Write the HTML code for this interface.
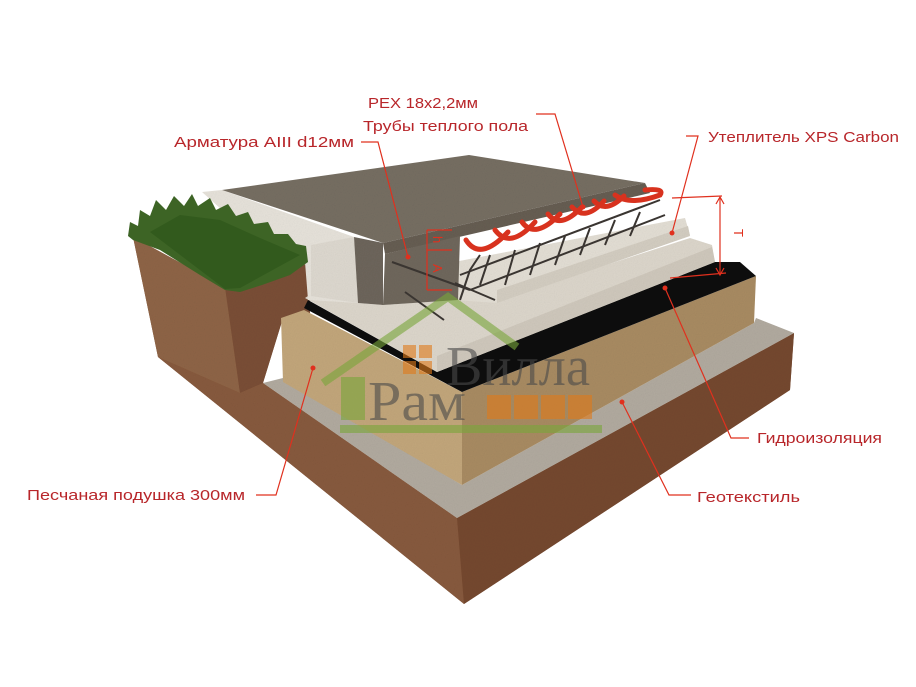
<!DOCTYPE html>
<html><head><meta charset="utf-8"><style>
html,body{margin:0;padding:0;background:#fff;}
svg{display:block;}
text{font-family:"Liberation Sans","DejaVu Sans",sans-serif;}
</style></head><body>
<svg width="916" height="687" viewBox="0 0 916 687" xmlns="http://www.w3.org/2000/svg">
<defs>
<filter id="n" x="0" y="0" width="100%" height="100%">
<feTurbulence type="fractalNoise" baseFrequency="0.9" numOctaves="2" result="t"/>
<feColorMatrix type="saturate" values="0"/>
<feComponentTransfer><feFuncA type="table" tableValues="0 0.18"/></feComponentTransfer>
<feComposite in2="SourceGraphic" operator="in"/>
<feBlend in="SourceGraphic" mode="multiply"/>
</filter>
</defs>
<g filter="url(#n)">
<!-- soil -->
<polygon points="133,237 225,287 310,263 310,318 283,318 263,383 457,518 794,333 790,390 464,604 158,357" fill="#8a5a3c"/>
<polygon points="133,237 225,287 240,393 158,357" fill="#8e6446"/>
<polygon points="225,287 310,263 310,318 283,318 263,383 240,393" fill="#7a4e36"/>
<polygon points="240,393 263,383 457,518 464,604 158,357" fill="#875a3e"/>
<polygon points="457,518 794,333 790,390 464,604" fill="#75482f"/>
<!-- geotextile -->
<polygon points="263,383 457,518 794,333 756,318 754,323 462,485 283,378" fill="#b1aa9f"/>
<!-- sand -->
<polygon points="281,318 304,310 462,392 462,485 283,382" fill="#c2a67b"/>
<polygon points="462,392 756,276 754,323 462,485" fill="#a88b62"/>
<!-- black membrane -->
<polygon points="304,308 462,392 756,276 740,262 712,262 437,372 308,300" fill="#101010"/>
<!-- XPS lower -->
<polygon points="305,298 437,372 715,262 712,245 690,238 497,300 455,300 383,305 358,303 308,296" fill="#dcd6cb"/>
<polygon points="437,356 712,247 715,262 437,372" fill="#cfc8bc"/>
<!-- XPS left wall -->
<polygon points="202,192 222,190 354,237 358,303 308,300 305,262 250,235" fill="#e6e2da"/>
<polygon points="311,245 354,237 358,303 311,296" fill="#ddd8cf"/>
<!-- upper tier -->
<polygon points="454,262 685,218 690,235 497,303 455,300" fill="#e3ded4"/>
<polygon points="497,290 688,226 690,236 497,303" fill="#d3cdc1"/>
<!-- slab -->
<polygon points="222,190 469,155 645,183 383,243" fill="#766e62"/>
<polygon points="354,237 383,243 383,305 358,303" fill="#6d655b"/>
<polygon points="383,243 645,183 650,193 385,254" fill="#665d52"/>
<polygon points="385,254 460,236 458,300 383,305" fill="#6f675c"/>
</g>
<!-- rebar -->
<g stroke="#3a3531" stroke-width="2" fill="none">
<line x1="392" y1="262" x2="470" y2="290"/>
<line x1="405" y1="292" x2="444" y2="320"/>
<line x1="455" y1="283" x2="495" y2="300"/>
<path d="M460,275 L660,200"/>
<path d="M470,290 L665,215"/>
<path d="M460,300 L470,270 L480,255 M480,285 L490,255 M505,285 L515,250 M530,275 L540,243 M555,265 L565,236 M580,255 L590,228 M605,245 L615,220 M630,236 L640,212"/>
</g>
<!-- pipes -->
<g stroke="#d8321e" stroke-width="5" fill="none" stroke-linecap="round">
<path d="M466,240 Q480,262 508,232"/>
<path d="M495,230 Q510,250 535,222"/>
<path d="M522,222 Q535,240 560,214"/>
<path d="M548,214 Q560,230 582,207"/>
<path d="M572,207 Q585,222 604,201"/>
<path d="M594,201 Q606,214 624,196"/>
<path d="M615,195 Q630,206 660,195 Q665,188 645,190"/>
</g>
<!-- grass -->
<polygon points="128,236 130,222 138,226 140,210 150,216 156,200 166,210 174,196 184,206 192,194 198,206 210,198 216,210 228,204 236,216 248,212 254,224 268,222 274,234 288,234 296,244 306,246 308,262 290,275 262,285 240,292 225,290 200,275 160,250 133,240" fill="#3d6425"/>
<polygon points="150,232 180,215 220,220 260,238 300,255 240,288 225,289" fill="#325a1d"/>
<!-- watermark -->
<g opacity="0.6">
<polyline points="323,383 448,297 517,347" fill="none" stroke="#79a63a" stroke-width="8"/>
<rect x="341" y="377" width="24" height="43" fill="#79a63a"/>
<rect x="340" y="425" width="262" height="8" fill="#79a63a"/>
<rect x="403" y="345" width="13" height="13" fill="#e07a1a"/><rect x="419" y="345" width="13" height="13" fill="#e07a1a"/>
<rect x="403" y="361" width="13" height="13" fill="#e07a1a"/><rect x="419" y="361" width="13" height="13" fill="#e07a1a"/>
<rect x="487" y="395" width="24" height="24" fill="#e07a1a"/><rect x="514" y="395" width="24" height="24" fill="#e07a1a"/>
<rect x="541" y="395" width="24" height="24" fill="#e07a1a"/><rect x="568" y="395" width="24" height="24" fill="#e07a1a"/>
<text x="446" y="385" font-size="56" fill="#4a4a4a" textLength="144" lengthAdjust="spacingAndGlyphs" style="font-family:'Liberation Serif',serif">Вилла</text>
<text x="368" y="420" font-size="56" fill="#4a4a4a" textLength="98" lengthAdjust="spacingAndGlyphs" style="font-family:'Liberation Serif',serif">Рам</text>
</g>
<!-- leaders -->
<g stroke="#e0301e" stroke-width="1.2" fill="none">
<polyline points="536,114 555,114 583,207"/>
<polyline points="361,142 378,142 408,257"/>
<polyline points="686,136 698,136 672,233"/>
<polyline points="749,438 731,438 665,288"/>
<polyline points="691,495 669,495 622,402"/>
<polyline points="256,495 276,495 313,368"/>
<line x1="672" y1="198" x2="722" y2="196"/>
<line x1="720" y1="197" x2="720" y2="275"/>
<line x1="670" y1="278" x2="726" y2="273"/>
<polyline points="716,204 720,197 724,204"/>
<polyline points="716,268 720,275 724,268"/>
<line x1="427" y1="230" x2="427" y2="290"/>
<line x1="427" y1="230" x2="452" y2="230"/>
<line x1="427" y1="250" x2="452" y2="250"/>
<line x1="427" y1="290" x2="452" y2="290"/>
</g>
<g fill="#e0301e">
<circle cx="583" cy="207" r="2.5"/><circle cx="408" cy="257" r="2.5"/><circle cx="672" cy="233" r="2.5"/>
<circle cx="665" cy="288" r="2.5"/><circle cx="622" cy="402" r="2.5"/><circle cx="313" cy="368" r="2.5"/>
</g>
<g fill="#e0301e" font-size="13">
<text transform="translate(734,229) rotate(90)">T</text>
<text transform="translate(433,236) rotate(90)">h</text>
<text transform="translate(433,264) rotate(90)">A</text>
</g>
<g fill="#b8262a" font-size="15">
<text x="368" y="108" textLength="110" lengthAdjust="spacingAndGlyphs">PEX 18x2,2мм</text>
<text x="363" y="131" textLength="165" lengthAdjust="spacingAndGlyphs">Трубы теплого пола</text>
<text x="174" y="147" textLength="180" lengthAdjust="spacingAndGlyphs">Арматура AIII d12мм</text>
<text x="708" y="142" textLength="191" lengthAdjust="spacingAndGlyphs">Утеплитель XPS Carbon</text>
<text x="757" y="443" textLength="125" lengthAdjust="spacingAndGlyphs">Гидроизоляция</text>
<text x="697" y="502" textLength="103" lengthAdjust="spacingAndGlyphs">Геотекстиль</text>
<text x="27" y="500" textLength="218" lengthAdjust="spacingAndGlyphs">Песчаная подушка 300мм</text>
</g>
</svg>
</body></html>
